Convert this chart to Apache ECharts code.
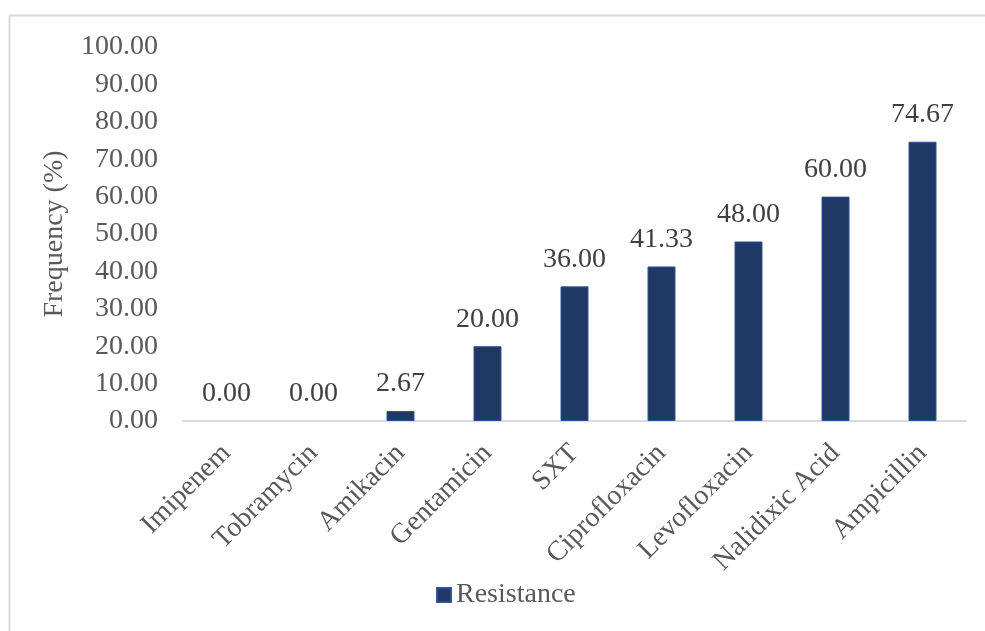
<!DOCTYPE html>
<html>
<head>
<meta charset="utf-8">
<script src="https://cdn.jsdelivr.net/npm/echarts@6/dist/echarts.min.js"></script>
<style>
  html, body { margin: 0; padding: 0; background: #fff; }
  #chart { width: 985px; height: 631px; }
</style>
</head>
<body>
<div id="chart"></div>
<script>
// Antibiotic resistance frequencies (%)
const categories = ['Imipenem', 'Tobramycin', 'Amikacin', 'Gentamicin', 'SXT', 'Ciprofloxacin', 'Levofloxacin', 'Nalidixic Acid', 'Ampicillin'];
const resistance = [0.00, 0.00, 2.67, 20.00, 36.00, 41.33, 48.00, 60.00, 74.67];
const seriesName = 'Resistance';
const yAxisTitle = 'Frequency (%)';

const FONT = '"Liberation Serif", "Times New Roman", serif';
const chart = echarts.init(document.getElementById('chart'));

// zero-height bars get no outline so they stay invisible
const barData = resistance.map(v => ({
  value: v,
  itemStyle: v === 0 ? { borderWidth: 0 } : undefined
}));

chart.setOption({
  animation: false,
  graphic: [{
    type: 'rect',
    shape: { x: 9.5, y: 15.5, width: 1000, height: 700 },
    style: { fill: 'none', stroke: '#D9D9D9', lineWidth: 2 },
    silent: true
  }],
  grid: { left: 183, right: 19, top: 47, bottom: 210 },
  legend: {
    bottom: 22,
    left: 436,
    padding: 0,
    itemWidth: 14,
    itemHeight: 14,
    itemGap: 6,
    icon: 'rect',
    textStyle: { fontFamily: FONT, fontSize: 28, color: '#595959' },
    data: [seriesName]
  },
  xAxis: {
    type: 'category',
    data: categories,
    axisLine: { lineStyle: { color: '#D9D9D9', width: 2 } },
    axisTick: { show: false },
    axisLabel: {
      rotate: 45,
      interval: 0,
      margin: 28,
      fontFamily: FONT,
      fontSize: 28,
      color: '#595959'
    }
  },
  yAxis: {
    type: 'value',
    min: 0,
    max: 100,
    interval: 10,
    name: yAxisTitle,
    nameLocation: 'middle',
    nameGap: 114,
    nameTextStyle: { fontFamily: FONT, fontSize: 28, color: '#595959' },
    splitLine: { show: false },
    axisLine: { show: false },
    axisTick: { show: false },
    axisLabel: {
      margin: 25,
      fontFamily: FONT,
      fontSize: 28,
      color: '#595959',
      formatter: v => v.toFixed(2)
    }
  },
  series: [{
    name: seriesName,
    type: 'bar',
    data: barData,
    barWidth: 28,
    itemStyle: { color: '#203864', borderColor: '#2F5597', borderWidth: 1 },
    label: {
      show: true,
      position: 'top',
      distance: 13,
      fontFamily: FONT,
      fontSize: 28,
      color: '#404040',
      formatter: p => p.value.toFixed(2)
    }
  }]
});
</script>
</body>
</html>
